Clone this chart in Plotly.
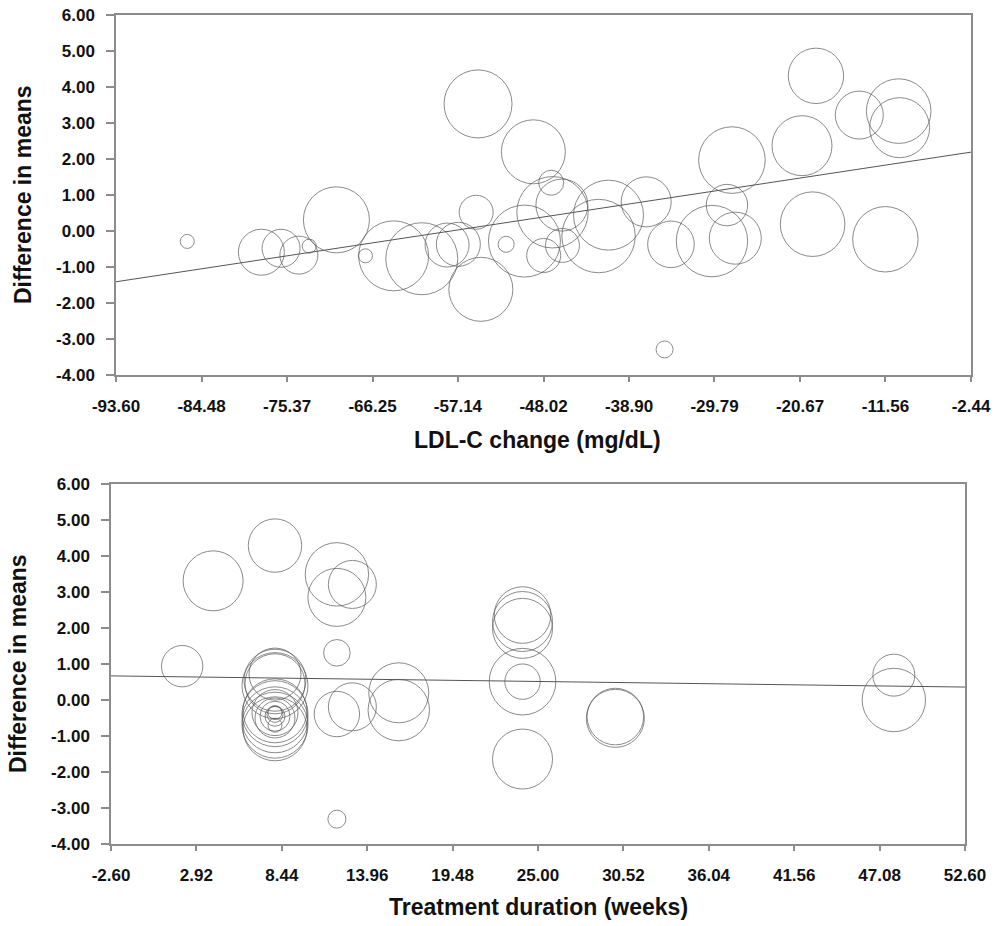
import plotly.graph_objects as go

# ---------------- data: top panel (LDL-C change) ----------------
ldl_change = [-86.0, -78.1, -76.0, -74.1, -73.0, -70.1, -67.0, -64.0, -61.0, -58.3,
              -57.1, -55.2, -55.0, -54.7, -52.0, -50.05, -49.1, -48.0, -47.2, -47.06,
              -46.06, -46.0, -42.15, -41.09, -37.07, -35.11, -34.43, -30.06, -28.46, -27.57,
              -27.93, -20.46, -18.97, -19.33, -14.35, -10.15, -10.05, -11.57]
diff_top = [-0.29, -0.59, -0.48, -0.67, -0.42, 0.31, -0.69, -0.69, -0.77, -0.39,
            -0.37, 0.52, 3.53, -1.62, -0.37, -0.28, 2.20, -0.68, 1.34, 0.52,
            0.72, -0.40, -0.14, 0.44, 0.81, -3.29, -0.37, -0.28, 0.72, -0.20,
            1.97, 2.37, 4.31, 0.19, 3.22, 3.33, 2.87, -0.23]
weight_top = [7, 23, 19, 19, 7, 33, 7, 35, 36, 22,
              22, 17, 34, 32, 8, 36, 32, 17, 12.5, 35.7,
              26, 17, 36.7, 35, 25, 8.5, 23.3, 35.7, 20.7, 26,
              33.3, 30, 27.7, 32.3, 24, 32.3, 30, 32.7]
top_ticks = [-93.60, -84.48, -75.37, -66.25, -57.14, -48.02, -38.90, -29.79, -20.67, -11.56, -2.44]
top_reg = (2.287, 0.0395)   # intercept, slope

# ---------------- data: bottom panel (treatment duration) ----------------
weeks = [2.0, 4.0, 8.0, 12.0, 12.0, 13.0, 12.0, 12.0, 13.0, 16.0,
         16.0, 12.0, 24.0, 24.0, 24.0, 24.0, 24.0, 24.0, 30.0, 30.0,
         48.0, 48.0,
         8.0, 8.0, 8.0, 8.0, 8.0, 8.0, 8.0, 8.0, 8.0, 8.0,
         8.0, 8.0, 8.0, 8.0, 8.0, 8.0]
diff_bot = [0.94, 3.31, 4.29, 3.49, 2.85, 3.21, 1.31, -0.39, -0.19, 0.20,
            -0.28, -3.31, 2.36, 2.18, 1.99, 0.51, 0.51, -1.64, -0.46, -0.51,
            0.69, 0.00,
            0.72, 0.55, 0.45, 0.40, -0.30, -0.38, -0.55, -0.70, -0.80, -0.35,
            -0.50, -0.45, -0.40, -0.35, -0.70, -0.45]
weight_bot = [20.7, 30, 26.7, 31.7, 29, 24, 13.3, 22.7, 24, 30,
              30.7, 9, 28.3, 30, 30, 33.3, 17.7, 30, 28.3, 29,
              21, 31.7,
              26, 31, 30, 33, 32, 33, 33, 33, 32, 23,
              20, 15, 8, 7, 7, 10]
bot_ticks = [-2.60, 2.92, 8.44, 13.96, 19.48, 25.00, 30.52, 36.04, 41.56, 47.08, 52.60]
bot_reg = (0.655, -0.00562)

y_ticks = [-4, -3, -2, -1, 0, 1, 2, 3, 4, 5, 6]

W, H = 995, 926
FONT = "Liberation Sans, Arial, sans-serif"
CIRC = "#5a5a5a"
AXC = "#8c8c8c"

fig = go.Figure()

def add_panel(xs, ys, ws, ticks, reg, xa, ya):
    fig.add_trace(go.Scatter(
        x=xs, y=ys, mode="markers", xaxis=xa, yaxis=ya, showlegend=False,
        marker=dict(size=[2 * w for w in ws], sizemode="diameter", color="rgba(0,0,0,0)",
                    line=dict(color=CIRC, width=1)),
        hoverinfo="x+y"))
    x0, x1 = ticks[0], ticks[-1]
    fig.add_trace(go.Scatter(
        x=[x0, x1], y=[reg[0] + reg[1] * x0, reg[0] + reg[1] * x1],
        mode="lines", xaxis=xa, yaxis=ya, showlegend=False,
        line=dict(color="#555555", width=1), hoverinfo="skip"))

add_panel(ldl_change, diff_top, weight_top, top_ticks, top_reg, "x", "y")
add_panel(weeks, diff_bot, weight_bot, bot_ticks, bot_reg, "x2", "y2")

tickfont = dict(family=FONT, size=17, color="#111111", weight="bold")

def xaxis(dom, ticks, anchor):
    return dict(domain=dom, range=[ticks[0], ticks[-1]], tickvals=ticks,
                ticktext=[f"{t:.2f}" for t in ticks], anchor=anchor, automargin=False,
                showgrid=False, zeroline=False, showline=True, linecolor=AXC, linewidth=1.5,
                mirror=True, ticks="outside", ticklen=5, tickcolor=AXC, tickwidth=1.5,
                tickfont=tickfont, ticklabelstandoff=10)

def yaxis(dom, anchor):
    return dict(domain=dom, range=[-4, 6], tickvals=y_ticks,
                ticktext=[f"{t:.2f}" for t in y_ticks], anchor=anchor, automargin=False,
                showgrid=False, zeroline=False, showline=True, linecolor=AXC, linewidth=1.5,
                mirror=True, ticks="outside", ticklen=8, tickcolor=AXC, tickwidth=1.5,
                tickfont=tickfont, ticklabelstandoff=8)

fig.update_layout(
    width=W, height=H, margin=dict(l=0, r=0, t=0, b=0, autoexpand=False),
    paper_bgcolor="white", plot_bgcolor="white",
    xaxis=xaxis([116 / W, 971 / W], top_ticks, "y"),
    yaxis=yaxis([1 - 375 / H, 1 - 15 / H], "x"),
    xaxis2=xaxis([111 / W, 965 / W], bot_ticks, "y2"),
    yaxis2=yaxis([1 - 844 / H, 1 - 484 / H], "x2"),
)

titlefont = dict(family=FONT, size=23, color="#111111", weight="bold")
for text, x, y, ang in [
    ("LDL-C change (mg/dL)", 537 / W, 1 - 440 / H, 0),
    ("Treatment duration (weeks)", 538 / W, 1 - 907 / H, 0),
    ("Difference in means", 23 / W, 1 - 195 / H, -90),
    ("Difference in means", 18 / W, 1 - 664 / H, -90),
]:
    fig.add_annotation(text=text, x=x, y=y, xref="paper", yref="paper", showarrow=False,
                       textangle=ang, font=titlefont, xanchor="center", yanchor="middle")

fig.write_html("out.html", config={"displayModeBar": False},
               post_script="document.body.style.margin='0';document.body.style.overflow='hidden';")
